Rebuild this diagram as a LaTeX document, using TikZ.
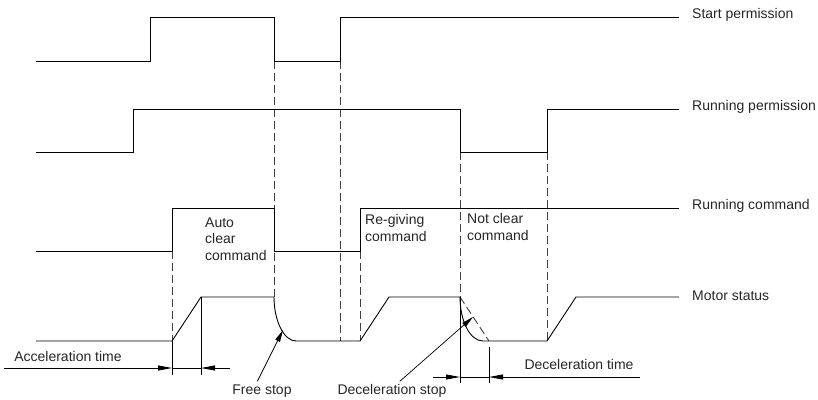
\documentclass[tikz,border=0pt]{standalone}
\usepackage{fontspec}
\setmainfont{Liberation Sans}
\usetikzlibrary{arrows.meta}
\tikzset{
  sig/.style={line width=0.9pt},
  guide/.style={dash pattern=on 8pt off 4pt, line width=0.9pt, black!75},
  extline/.style={line width=0.7pt},
  dimtip/.style={-{Triangle[length=14pt,width=5pt]}, line width=0.8pt},
  ptr/.style={-{Triangle[length=12pt,width=5pt]}, line width=0.7pt, shorten <=1pt},
  lbl/.style={inner sep=0pt, font=\fontsize{14}{16.5}\selectfont, text=black!85}
}
\begin{document}
\begin{tikzpicture}[x=1pt,y=-1pt]
\useasboundingbox (0,0) rectangle (818,399);
\draw[guide] (274,61) -- (274,297);
\draw[guide] (340,61) -- (340,341);
\draw[guide] (172,251) -- (172,341);
\draw[guide] (360,251) -- (360,341);
\draw[guide] (460,152) -- (460,297);
\draw[guide] (547,152) -- (547,341);
\draw[guide] (460,297) -- (489,341);
\draw[sig] (36,61) -- (150,61) -- (150,17) -- (274,17) -- (274,61) -- (340,61) -- (340,17) -- (679,17);
\draw[sig] (36,152) -- (133,152) -- (133,109) -- (460,109) -- (460,152) -- (547,152) -- (547,109) -- (679,109);
\draw[sig] (36,251) -- (172,251) -- (172,208) -- (274,208) -- (274,251) -- (360,251) -- (360,208) -- (679,208);
\draw[sig] (36,341) -- (172,341) -- (201,297) -- (274,297) .. controls (274,321) and (284,341) .. (296,341) -- (360,341) -- (389,297) -- (460,297) .. controls (460,321) and (470,341) .. (483,341) -- (547,341) -- (576,297) -- (679,297);
\node[lbl, anchor=west] (startperm) at (692,15) {Start permission};
\node[lbl, anchor=west] (runperm) at (692,107) {Running permission};
\node[lbl, anchor=west] (runcmd) at (692,206) {Running command};
\node[lbl, anchor=west] (motor) at (692,296) {Motor status};
\node[lbl, anchor=west, align=left] (autoclear) at (205,239) {Auto\\clear\\command};
\node[lbl, anchor=west, align=left] (regiving) at (365,228) {Re-giving\\command};
\node[lbl, anchor=west, align=left] (notclear) at (467,227) {Not clear\\command};
\draw[extline] (172,341) -- (172,375);
\draw[extline] (201,297) -- (201,375);
\draw[extline] (460,297) -- (460,383);
\draw[extline] (489,347) -- (489,383);
\coordinate (acc1) at (172,368);
\coordinate (acc2) at (201,368);
\coordinate (dec1) at (460,377);
\coordinate (dec2) at (489,377);
\draw[dimtip] (4,368) -- (acc1);
\draw[extline] (acc1) -- (acc2);
\draw[dimtip] (230,368) -- (acc2);
\draw[dimtip] (433,377) -- (dec1);
\draw[extline] (dec1) -- (dec2);
\draw[dimtip] (640,377) -- (dec2);
\node[lbl] (acctime) at (68,356) {Acceleration time};
\node[lbl] (dectime) at (579,364) {Deceleration time};
\node[lbl] (freestop) at (262,391) {Free stop};
\node[lbl] (decstop) at (392,391) {Deceleration stop};
\coordinate (fsend) at (283,330);
\coordinate (dsend) at (473,317);
\draw[ptr] (257,382) -- (fsend);
\draw[ptr] (399,382) -- (dsend);
\end{tikzpicture}
\end{document}
